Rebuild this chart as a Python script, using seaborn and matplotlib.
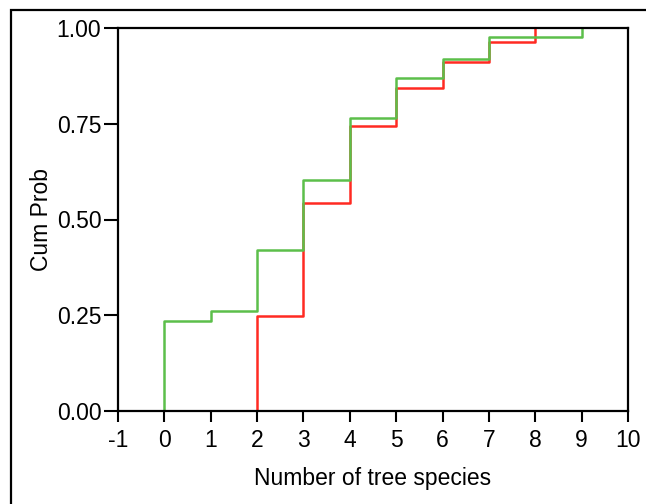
import numpy as np
import pandas as pd
import seaborn as sns
import matplotlib.pyplot as plt
from matplotlib.patches import Rectangle

# step data (cumulative probability per number of tree species)
green_x = [0, 0, 1, 2, 3, 4, 5, 6, 7, 9]
green_y = [0.0, 0.235, 0.262, 0.420, 0.602, 0.765, 0.870, 0.920, 0.976, 1.0]
red_x = [2, 2, 3, 4, 5, 6, 7, 8]
red_y = [0.0, 0.247, 0.542, 0.743, 0.843, 0.911, 0.964, 1.0]

x_ticks = list(range(-1, 11))
y_ticks = [0.0, 0.25, 0.5, 0.75, 1.0]

sns.set_style("white")
plt.rcParams['font.family'] = ['Liberation Sans', 'DejaVu Sans']

fig = plt.figure(figsize=(6.46, 5.04), dpi=100)
ax = fig.add_axes([118 / 646, 1 - 411 / 504, 510 / 646, 383 / 504])

red_df = pd.DataFrame({"x": red_x, "y": red_y})
green_df = pd.DataFrame({"x": green_x, "y": green_y})
sns.lineplot(data=red_df, x="x", y="y", estimator=None, sort=False,
             drawstyle="steps-post", color="#ff2a22", linewidth=1.8, ax=ax)
sns.lineplot(data=green_df, x="x", y="y", estimator=None, sort=False,
             drawstyle="steps-post", color="#5cbf4a", linewidth=1.8, ax=ax)

ax.set_xlim(-1, 10)
ax.set_ylim(0, 1)
ax.set_xticks(x_ticks)
ax.set_xticklabels([str(t) for t in x_ticks])
ax.set_yticks(y_ticks)
ax.set_yticklabels([f"{t:.2f}" for t in y_ticks])
ax.tick_params(axis="x", bottom=True, direction="out", length=8, width=1.5,
               labelsize=16.5, pad=5, colors="black")
ax.tick_params(axis="y", left=True, direction="out", length=10, width=1.5,
               labelsize=16.5, pad=2, colors="black")
for s in ax.spines.values():
    s.set_color("black")
    s.set_linewidth(1.6)
ax.set_xlabel("Number of tree species", fontsize=16.5, labelpad=11, color="black")
ax.set_ylabel("Cum Prob", fontsize=16.5, labelpad=3, color="black")

# outer frame around figure
fig.patches.append(Rectangle((11 / 646, -0.1), 2, 1.1 - 10 / 504,
                             transform=fig.transFigure, fill=False,
                             edgecolor="black", linewidth=1.6))

fig.savefig("out.png", dpi=100)
